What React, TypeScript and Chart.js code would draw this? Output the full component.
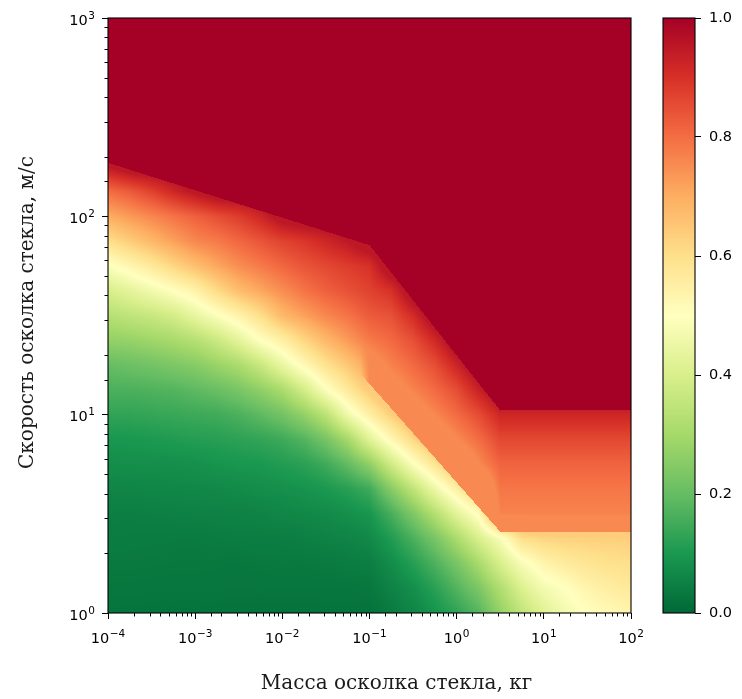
import React, { useEffect, useRef } from 'react';
import { Chart, registerables } from 'chart.js';

Chart.register(...registerables);

// ---- axes / labels ----
const X_TITLE = 'Масса осколка стекла, кг';
const Y_TITLE = 'Скорость осколка стекла, м/с';
const X_MIN = 1e-4;
const X_MAX = 1e2;
const Y_MIN = 1;
const Y_MAX = 1e3;
const CB_TICKS = [0, 0.2, 0.4, 0.6, 0.8, 1.0];

// grid sample positions (log10 of mass, kg) - columns
const MASS_LOG10 = [-4, -3.75, -3.5, -3.25, -3, -2.75, -2.5, -2.25, -2, -1.75, -1.5, -1.25, -1, -0.75, -0.5, -0.25, 0, 0.25, 0.5, 0.75, 1, 1.25, 1.5, 1.75, 2];
// grid sample positions (log10 of speed, m/s) - rows, top to bottom
const SPEED_LOG10 = [3, 2.875, 2.75, 2.625, 2.5, 2.375, 2.25, 2.125, 2, 1.875, 1.75, 1.625, 1.5, 1.375, 1.25, 1.125, 1, 0.875, 0.75, 0.625, 0.5, 0.375, 0.25, 0.125, 0];

// probability values, one row per speed level
const P_V3000 = [1, 1, 1, 1, 1, 1, 1, 1, 1, 1, 1, 1, 1, 1, 1, 1, 1, 1, 1, 1, 1, 1, 1, 1, 1];
const P_V2875 = [1, 1, 1, 1, 1, 1, 1, 1, 1, 1, 1, 1, 1, 1, 1, 1, 1, 1, 1, 1, 1, 1, 1, 1, 1];
const P_V2750 = [1, 1, 1, 1, 1, 1, 1, 1, 1, 1, 1, 1, 1, 1, 1, 1, 1, 1, 1, 1, 1, 1, 1, 1, 1];
const P_V2625 = [1, 1, 1, 1, 1, 1, 1, 1, 1, 1, 1, 1, 1, 1, 1, 1, 1, 1, 1, 1, 1, 1, 1, 1, 1];
const P_V2500 = [1, 1, 1, 1, 1, 1, 1, 1, 1, 1, 1, 1, 1, 1, 1, 1, 1, 1, 1, 1, 1, 1, 1, 1, 1];
const P_V2375 = [1, 1, 1, 1, 1, 1, 1, 1, 1, 1, 1, 1, 1, 1, 1, 1, 1, 1, 1, 1, 1, 1, 1, 1, 1];
const P_V2250 = [0.95, 0.99, 1, 1, 1, 1, 1, 1, 1, 1, 1, 1, 1, 1, 1, 1, 1, 1, 1, 1, 1, 1, 1, 1, 1];
const P_V2125 = [0.8, 0.83, 0.87, 0.92, 0.96, 1, 1, 1, 1, 1, 1, 1, 1, 1, 1, 1, 1, 1, 1, 1, 1, 1, 1, 1, 1];
const P_V2000 = [0.7, 0.73, 0.76, 0.79, 0.82, 0.85, 0.88, 0.92, 0.98, 1, 1, 1, 1, 1, 1, 1, 1, 1, 1, 1, 1, 1, 1, 1, 1];
const P_V1875 = [0.6, 0.64, 0.68, 0.72, 0.76, 0.78, 0.81, 0.84, 0.87, 0.89, 0.92, 0.95, 1, 1, 1, 1, 1, 1, 1, 1, 1, 1, 1, 1, 1];
const P_V1750 = [0.49, 0.53, 0.57, 0.62, 0.665, 0.71, 0.75, 0.78, 0.81, 0.84, 0.86, 0.88, 0.9, 1, 1, 1, 1, 1, 1, 1, 1, 1, 1, 1, 1];
const P_V1625 = [0.4, 0.43, 0.465, 0.5, 0.54, 0.61, 0.67, 0.71, 0.75, 0.79, 0.82, 0.845, 0.87, 0.9, 1, 1, 1, 1, 1, 1, 1, 1, 1, 1, 1];
const P_V1500 = [0.33, 0.35, 0.365, 0.39, 0.44, 0.49, 0.54, 0.6, 0.68, 0.72, 0.76, 0.79, 0.83, 0.846, 0.91, 1, 1, 1, 1, 1, 1, 1, 1, 1, 1];
const P_V1375 = [0.27, 0.275, 0.29, 0.305, 0.33, 0.37, 0.43, 0.5, 0.55, 0.62, 0.68, 0.73, 0.78, 0.807, 0.848, 0.915, 1, 1, 1, 1, 1, 1, 1, 1, 1];
const P_V1250 = [0.2, 0.21, 0.22, 0.235, 0.25, 0.28, 0.31, 0.365, 0.445, 0.52, 0.59, 0.65, 0.72, 0.769, 0.806, 0.85, 0.924, 1, 1, 1, 1, 1, 1, 1, 1];
const P_V1125 = [0.165, 0.165, 0.17, 0.175, 0.19, 0.205, 0.23, 0.265, 0.31, 0.39, 0.49, 0.57, 0.65, 0.725, 0.765, 0.805, 0.852, 0.93, 1, 1, 1, 1, 1, 1, 1];
const P_V1000 = [0.13, 0.13, 0.135, 0.14, 0.145, 0.15, 0.165, 0.19, 0.22, 0.27, 0.34, 0.46, 0.55, 0.636, 0.717, 0.76, 0.804, 0.853, 0.92, 0.92, 0.92, 0.92, 0.92, 0.92, 0.92];
const P_V0875 = [0.097, 0.098, 0.103, 0.108, 0.113, 0.117, 0.124, 0.132, 0.147, 0.175, 0.225, 0.3, 0.42, 0.523, 0.614, 0.7, 0.754, 0.8, 0.86, 0.86, 0.86, 0.86, 0.86, 0.86, 0.86];
const P_V0750 = [0.078, 0.079, 0.079, 0.08, 0.084, 0.091, 0.096, 0.1, 0.11, 0.122, 0.148, 0.195, 0.264, 0.38, 0.49, 0.584, 0.68, 0.754, 0.815, 0.815, 0.815, 0.815, 0.815, 0.815, 0.815];
const P_V0625 = [0.06, 0.061, 0.063, 0.064, 0.065, 0.067, 0.071, 0.077, 0.082, 0.089, 0.1, 0.118, 0.147, 0.25, 0.346, 0.454, 0.55, 0.655, 0.786, 0.786, 0.786, 0.786, 0.786, 0.786, 0.786];
const P_V0500 = [0.047, 0.046, 0.048, 0.05, 0.052, 0.053, 0.054, 0.056, 0.062, 0.067, 0.071, 0.081, 0.095, 0.159, 0.236, 0.326, 0.424, 0.512, 0.766, 0.766, 0.766, 0.766, 0.766, 0.766, 0.766];
const P_V0375 = [0.042, 0.041, 0.04, 0.039, 0.038, 0.042, 0.043, 0.044, 0.044, 0.048, 0.053, 0.058, 0.067, 0.108, 0.163, 0.227, 0.309, 0.4, 0.48, 0.6, 0.62, 0.627, 0.63, 0.632, 0.634];
const P_V0250 = [0.036, 0.036, 0.035, 0.034, 0.034, 0.033, 0.032, 0.035, 0.036, 0.035, 0.038, 0.042, 0.045, 0.075, 0.115, 0.166, 0.227, 0.305, 0.4, 0.48, 0.535, 0.565, 0.583, 0.594, 0.602];
const P_V0125 = [0.031, 0.031, 0.03, 0.03, 0.03, 0.03, 0.029, 0.028, 0.029, 0.029, 0.029, 0.029, 0.032, 0.054, 0.08, 0.12, 0.174, 0.233, 0.32, 0.41, 0.47, 0.5, 0.536, 0.556, 0.57];
const P_V0000 = [0.025, 0.024, 0.023, 0.022, 0.022, 0.021, 0.021, 0.021, 0.02, 0.021, 0.022, 0.022, 0.02, 0.038, 0.06, 0.089, 0.128, 0.176, 0.27, 0.35, 0.42, 0.47, 0.5, 0.518, 0.538];

const GRID_ROWS = [
  P_V3000, P_V2875, P_V2750, P_V2625, P_V2500, P_V2375, P_V2250, P_V2125, P_V2000,
  P_V1875, P_V1750, P_V1625, P_V1500, P_V1375, P_V1250, P_V1125, P_V1000,
  P_V0875, P_V0750, P_V0625, P_V0500, P_V0375, P_V0250, P_V0125, P_V0000,
];

// sharp edges (mass kg, speed m/s)
// edge above which probability is 1.0 (dark red)
const RED_EDGE_MASS = [1e-4, 0.1, 3.16, 100];
const RED_EDGE_SPEED = [186, 71.6, 10.5, 10.5];
// step edge between the orange band and the light band below it
const STEP_EDGE_MASS = [0.0794, 0.1, 3.16, 100];
const STEP_EDGE_SPEED = [16.0, 14.3, 2.57, 2.57];
const STEP_ABOVE_MIN = 0.755;
const STEP_BELOW_MAX = 0.64;

// RdYlGn_r colormap anchors (value 0 -> 1)
const CMAP = ['#006837', '#1a9850', '#66bd63', '#a6d96a', '#d9ef8b', '#ffffbf', '#fee08b', '#fdae61', '#f46d43', '#d73027', '#a50026'];

const hexToRgb = (h: string) => [parseInt(h.slice(1, 3), 16), parseInt(h.slice(3, 5), 16), parseInt(h.slice(5, 7), 16)];
const CMAP_RGB = CMAP.map(hexToRgb);

function colorAt(v: number): number[] {
  const t = Math.max(0, Math.min(1, v)) * (CMAP_RGB.length - 1);
  const i = Math.min(CMAP_RGB.length - 2, Math.floor(t));
  const f = t - i;
  const a = CMAP_RGB[i];
  const b = CMAP_RGB[i + 1];
  return [0, 1, 2].map((k) => Math.round(a[k] + (b[k] - a[k]) * f));
}

// fractional index of v inside a monotone array
function fracIndex(arr: number[], v: number): number {
  const asc = arr[arr.length - 1] > arr[0];
  for (let i = 0; i < arr.length - 1; i++) {
    const a = arr[i];
    const b = arr[i + 1];
    const inside = asc ? v <= b : v >= b;
    if (inside || i === arr.length - 2) {
      const f = (v - a) / (b - a);
      return i + Math.max(0, Math.min(1, f));
    }
  }
  return 0;
}

// edge height (log10 speed) at log10 mass lx, along a log-log polyline
function edgeAt(masses: number[], speeds: number[], lx: number): number {
  const lm = masses.map(Math.log10);
  const ls = speeds.map(Math.log10);
  if (lx <= lm[0]) return ls[0];
  for (let i = 0; i < lm.length - 1; i++) {
    if (lx <= lm[i + 1]) {
      const f = (lx - lm[i]) / (lm[i + 1] - lm[i]);
      return ls[i] + (ls[i + 1] - ls[i]) * f;
    }
  }
  return ls[ls.length - 1];
}

const SUP_MINUS = '\u2212';
const isMajor = (v: number) => {
  const l = Math.log10(v);
  return Math.abs(l - Math.round(l)) < 1e-6;
};

const TICK_SIZE = 14.5;
const SUP_SIZE = 10.5;
const TICK_FONT = { family: 'DejaVu Sans', size: TICK_SIZE };
const TITLE_CSS = '20px "DejaVu Serif"';

function drawPow(ctx: CanvasRenderingContext2D, exp: number, x: number, baseline: number, align: 'center' | 'right') {
  const base = '10';
  const e = exp < 0 ? SUP_MINUS + String(-exp) : String(exp);
  ctx.font = `${TICK_SIZE}px "DejaVu Sans"`;
  const wb = ctx.measureText(base).width;
  ctx.font = `${SUP_SIZE}px "DejaVu Sans"`;
  const we = ctx.measureText(e).width;
  const total = wb + we + 0.5;
  const left = align === 'center' ? x - total / 2 : x - total;
  ctx.textAlign = 'left';
  ctx.textBaseline = 'alphabetic';
  ctx.fillStyle = '#000';
  ctx.font = `${TICK_SIZE}px "DejaVu Sans"`;
  ctx.fillText(base, left, baseline);
  ctx.font = `${SUP_SIZE}px "DejaVu Sans"`;
  ctx.fillText(e, left + wb + 0.5, baseline - 6);
}

const heatmapPlugin = {
  id: 'heatmap',
  beforeDatasetsDraw(chart: any) {
    const { ctx, chartArea, scales } = chart;
    const xs = scales.x;
    const ys = scales.y;
    const L = Math.round(chartArea.left);
    const T = Math.round(chartArea.top);
    const W = Math.round(chartArea.right) - L;
    const H = Math.round(chartArea.bottom) - T;
    const off = document.createElement('canvas');
    off.width = W;
    off.height = H;
    const octx = off.getContext('2d') as CanvasRenderingContext2D;
    const img = octx.createImageData(W, H);
    const nx = MASS_LOG10.length;
    const ny = SPEED_LOG10.length;
    const fiCol: number[] = [];
    const redCol: number[] = [];
    const stepCol: number[] = [];
    const stepW: number[] = [];
    const stepStart = Math.log10(STEP_EDGE_MASS[0]);
    const stepFull = Math.log10(STEP_EDGE_MASS[1]);
    for (let px = 0; px < W; px++) {
      const lx = Math.log10(xs.getValueForPixel(L + px + 0.5));
      fiCol.push(fracIndex(MASS_LOG10, lx));
      redCol.push(edgeAt(RED_EDGE_MASS, RED_EDGE_SPEED, lx));
      stepCol.push(edgeAt(STEP_EDGE_MASS, STEP_EDGE_SPEED, lx));
      stepW.push(Math.max(0, Math.min(1, (lx - stepStart) / (stepFull - stepStart))));
    }
    for (let py = 0; py < H; py++) {
      const ly = Math.log10(ys.getValueForPixel(T + py + 0.5));
      const fj = fracIndex(SPEED_LOG10, ly);
      const j0 = Math.min(ny - 2, Math.floor(fj));
      const tj = fj - j0;
      const r0 = GRID_ROWS[j0];
      const r1 = GRID_ROWS[j0 + 1];
      for (let px = 0; px < W; px++) {
        const fi = fiCol[px];
        const i0 = Math.min(nx - 2, Math.floor(fi));
        const ti = fi - i0;
        const top = r0[i0] + (r0[i0 + 1] - r0[i0]) * ti;
        const bot = r1[i0] + (r1[i0 + 1] - r1[i0]) * ti;
        let v = top + (bot - top) * tj;
        if (ly >= redCol[px]) {
          v = 1;
        } else {
          v = Math.min(v, 0.95);
          const w = stepW[px];
          if (w > 0) {
            const target = ly >= stepCol[px] ? Math.max(v, STEP_ABOVE_MIN) : Math.min(v, STEP_BELOW_MAX);
            v = v + (target - v) * w;
          }
        }
        const [r, g, b] = colorAt(v);
        const k = (py * W + px) * 4;
        img.data[k] = r;
        img.data[k + 1] = g;
        img.data[k + 2] = b;
        img.data[k + 3] = 255;
      }
    }
    octx.putImageData(img, 0, 0);
    ctx.save();
    ctx.drawImage(off, L, T);
    ctx.restore();
  },
  afterDraw(chart: any) {
    const { ctx, chartArea, scales } = chart;
    ctx.save();
    ctx.strokeStyle = '#000';
    ctx.lineWidth = 1;
    ctx.beginPath();
    for (const t of scales.x.ticks) {
      if (isMajor(t.value)) continue;
      const p = Math.round(scales.x.getPixelForValue(t.value)) + 0.5;
      ctx.moveTo(p, chartArea.bottom);
      ctx.lineTo(p, chartArea.bottom + 3.5);
    }
    for (const t of scales.y.ticks) {
      if (isMajor(t.value)) continue;
      const p = Math.round(scales.y.getPixelForValue(t.value)) + 0.5;
      ctx.moveTo(chartArea.left, p);
      ctx.lineTo(chartArea.left - 3.5, p);
    }
    ctx.stroke();
    ctx.lineWidth = 1.1;
    ctx.strokeRect(chartArea.left, chartArea.top, chartArea.right - chartArea.left, chartArea.bottom - chartArea.top);
    for (const t of scales.x.ticks) {
      if (!isMajor(t.value)) continue;
      const p = scales.x.getPixelForValue(t.value);
      drawPow(ctx, Math.round(Math.log10(t.value)), p, chartArea.bottom + 30, 'center');
    }
    for (const t of scales.y.ticks) {
      if (!isMajor(t.value)) continue;
      const p = scales.y.getPixelForValue(t.value);
      drawPow(ctx, Math.round(Math.log10(t.value)), chartArea.left - 13, p + 6.5, 'right');
    }
    // axis titles
    ctx.fillStyle = '#1a1a1a';
    ctx.font = TITLE_CSS;
    ctx.textAlign = 'center';
    ctx.textBaseline = 'alphabetic';
    const xMid = (chartArea.left + chartArea.right) / 2;
    ctx.fillText(X_TITLE, xMid + 27, chartArea.bottom + 76);
    ctx.save();
    ctx.translate(33, (chartArea.top + chartArea.bottom) / 2 - 3);
    ctx.rotate(-Math.PI / 2);
    ctx.fillText(Y_TITLE, 0, 0);
    ctx.restore();
    ctx.restore();
  },
};

const colorbarPlugin = {
  id: 'colorbar',
  beforeDatasetsDraw(chart: any) {
    const { ctx, chartArea, scales } = chart;
    const ys = scales.y;
    const yb = ys.getPixelForValue(0);
    const yt = ys.getPixelForValue(1);
    const g = ctx.createLinearGradient(0, yb, 0, yt);
    CMAP.forEach((c, i) => g.addColorStop(i / (CMAP.length - 1), c));
    ctx.save();
    ctx.fillStyle = g;
    ctx.fillRect(chartArea.left, yt, chartArea.right - chartArea.left, yb - yt);
    ctx.strokeStyle = '#000';
    ctx.lineWidth = 1.1;
    ctx.strokeRect(chartArea.left, yt, chartArea.right - chartArea.left, yb - yt);
    ctx.restore();
  },
};

const majorTickColor = (c: any) => (c.tick && isMajor(c.tick.value) ? '#000' : 'rgba(0,0,0,0)');

export default function App() {
  const mainRef = useRef<HTMLCanvasElement>(null);
  const cbRef = useRef<HTMLCanvasElement>(null);

  useEffect(() => {
    const main = new Chart(mainRef.current as HTMLCanvasElement, {
      type: 'scatter',
      data: { datasets: [] },
      plugins: [heatmapPlugin],
      options: {
        animation: false,
        responsive: false,
        maintainAspectRatio: false,
        devicePixelRatio: 1,
        layout: { padding: { left: 0, right: 29, top: 18, bottom: 0 } },
        plugins: { legend: { display: false }, tooltip: { enabled: false } },
        scales: {
          x: {
            type: 'logarithmic',
            position: 'bottom',
            min: X_MIN,
            max: X_MAX,
            afterFit: (s: any) => { s.height = 86; },
            border: { display: false },
            grid: { drawOnChartArea: false, drawTicks: true, tickLength: 6, tickWidth: 1, tickColor: majorTickColor },
            ticks: { display: false, autoSkip: false, maxRotation: 0, minRotation: 0, font: TICK_FONT },
            title: { display: false, text: X_TITLE },
          },
          y: {
            type: 'logarithmic',
            position: 'left',
            min: Y_MIN,
            max: Y_MAX,
            afterFit: (s: any) => { s.width = 108; },
            border: { display: false },
            grid: { drawOnChartArea: false, drawTicks: true, tickLength: 6, tickWidth: 1, tickColor: majorTickColor },
            ticks: { display: false, autoSkip: false, font: TICK_FONT },
            title: { display: false, text: Y_TITLE },
          },
        },
      },
    } as any);

    const cb = new Chart(cbRef.current as HTMLCanvasElement, {
      type: 'scatter',
      data: { datasets: [] },
      plugins: [colorbarPlugin],
      options: {
        animation: false,
        responsive: false,
        maintainAspectRatio: false,
        devicePixelRatio: 1,
        layout: { padding: { left: 23, right: 0, top: 18, bottom: 86 } },
        plugins: { legend: { display: false }, tooltip: { enabled: false } },
        scales: {
          x: { display: false, min: 0, max: 1 },
          y: {
            position: 'right',
            min: 0,
            max: 1,
            afterFit: (s: any) => { s.width = 47; },
            afterBuildTicks: (s: any) => { s.ticks = CB_TICKS.map((v) => ({ value: v })); },
            border: { display: false },
            grid: { drawOnChartArea: false, drawTicks: true, tickLength: 6, tickWidth: 1, tickColor: '#000' },
            ticks: { padding: 8, color: '#000', font: TICK_FONT, callback: (v: any) => Number(v).toFixed(1) },
          },
        },
      },
    } as any);

    return () => {
      main.destroy();
      cb.destroy();
    };
  }, []);

  return (
    <div style={{ position: 'absolute', left: 0, top: 0, width: 742, height: 699, background: '#fff' }}>
      <canvas ref={mainRef} width={660} height={699} style={{ position: 'absolute', left: 0, top: 0, width: 660, height: 699 }} />
      <canvas ref={cbRef} width={102} height={699} style={{ position: 'absolute', left: 640, top: 0, width: 102, height: 699 }} />
    </div>
  );
}
